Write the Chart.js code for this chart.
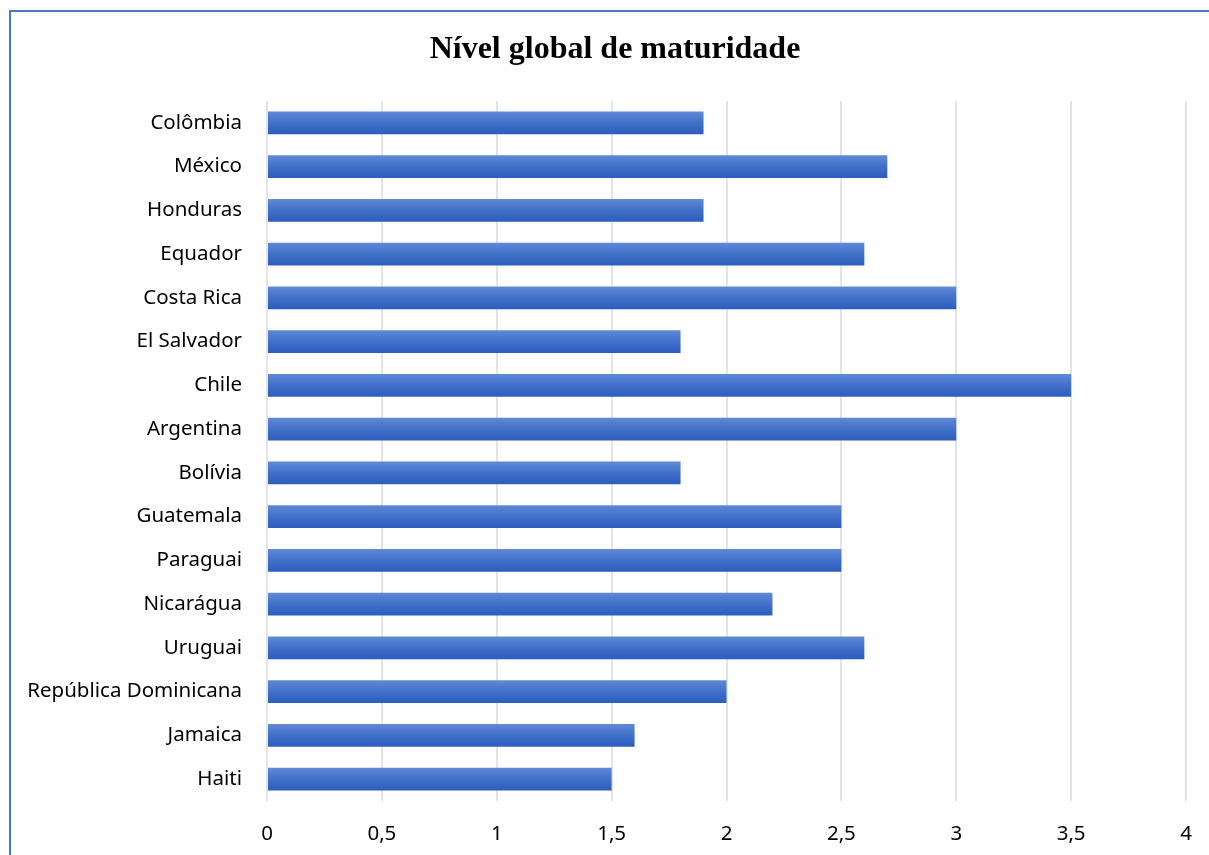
<!DOCTYPE html>
<html>
<head>
<meta charset="utf-8">
<script src="https://cdn.jsdelivr.net/npm/chart.js@4"></script>
<style>
	html, body { margin: 0; padding: 0; background: #fff; overflow: hidden; }
	#wrap { position: relative; width: 1209px; height: 855px; }
	#frame { position: absolute; left: 9px; top: 10px; width: 1300px; height: 900px;
		border-top: 2px solid #4a78c8; border-left: 2px solid #4a78c8; }
	canvas { position: absolute; left: 0; top: 0; }
</style>
</head>
<body>
<div id="wrap">
	<div id="frame"></div>
	<canvas id="chart" width="1209" height="855"></canvas>
</div>
<script>
// 数据
const chartTitle = 'Nível global de maturidade';
const countries = ['Colômbia', 'México', 'Honduras', 'Equador', 'Costa Rica', 'El Salvador', 'Chile',
	'Argentina', 'Bolívia', 'Guatemala', 'Paraguai', 'Nicarágua', 'Uruguai', 'República Dominicana',
	'Jamaica', 'Haiti'];
const maturity = [1.9, 2.7, 1.9, 2.6, 3.0, 1.8, 3.5, 3.0, 1.8, 2.5, 2.5, 2.2, 2.6, 2.0, 1.6, 1.5];
const xTicks = [0, 0.5, 1, 1.5, 2, 2.5, 3, 3.5, 4];

const BAR_PCT = 0.52;

// 每个条形的渐变填充
function barFill(context) {
	const chart = context.chart;
	const yScale = chart.scales.y;
	if (!chart.chartArea || !yScale) {
		return '#4472c4';
	}
	const center = yScale.getPixelForValue(context.dataIndex);
	const half = (chart.chartArea.height / countries.length) * BAR_PCT / 2;
	const g = chart.ctx.createLinearGradient(0, center - half, 0, center + half);
	g.addColorStop(0, '#6189d6');
	g.addColorStop(0.5, '#4070c9');
	g.addColorStop(1, '#2c5dbd');
	return g;
}

// 标题（位置与原图对齐）
const titlePlugin = {
	id: 'centerTitle',
	afterDraw(chart) {
		const c = chart.ctx;
		c.save();
		c.font = 'bold 32px "Liberation Serif", "Times New Roman", serif';
		c.fillStyle = '#000';
		c.textAlign = 'center';
		c.textBaseline = 'middle';
		c.fillText(chartTitle, 615, 50);
		c.restore();
	}
};

const ctx = document.getElementById('chart').getContext('2d');
new Chart(ctx, {
	type: 'bar',
	data: {
		labels: countries,
		datasets: [{
			data: maturity,
			backgroundColor: barFill,
			borderWidth: 0,
			barPercentage: BAR_PCT,
			categoryPercentage: 1
		}]
	},
	plugins: [titlePlugin],
	options: {
		indexAxis: 'y',
		responsive: false,
		animation: false,
		layout: { padding: { left: 0, right: 23, top: 101, bottom: 0 } },
		plugins: {
			legend: { display: false },
			tooltip: { enabled: false },
			title: { display: false }
		},
		scales: {
			x: {
				min: 0,
				max: 4,
				afterBuildTicks(scale) {
					scale.ticks = xTicks.map(v => ({ value: v }));
				},
				afterFit(scale) {
					scale.height = 54;
					// 去掉刻度标签的左右溢出留白
					scale.paddingLeft = 0;
					scale.paddingRight = 0;
				},
				grid: { color: '#e1e4ea', lineWidth: 2, drawTicks: false },
				border: { display: false },
				ticks: {
					padding: 21,
					color: '#000',
					font: { family: '"Noto Sans", sans-serif', size: 20.5 },
					callback: v => String(v).replace('.', ',')
				}
			},
			y: {
				afterFit(scale) { scale.width = 267; },
				grid: { display: false, drawTicks: false },
				border: { display: false },
				ticks: {
					padding: 25,
					color: '#000',
					font: { family: '"Noto Sans", sans-serif', size: 20.5 }
				}
			}
		}
	}
});
</script>
</body>
</html>
